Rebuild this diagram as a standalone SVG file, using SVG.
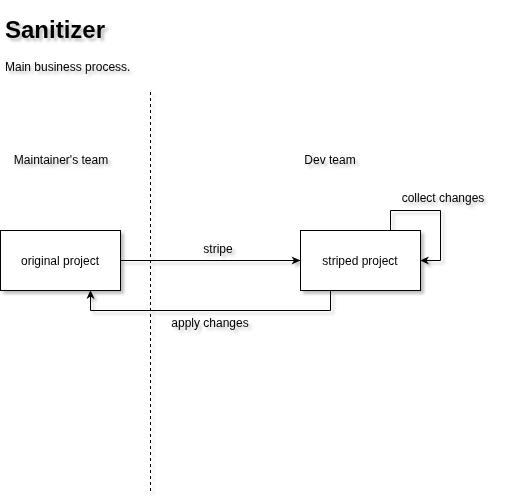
<svg xmlns="http://www.w3.org/2000/svg" width="512" height="503" viewBox="0 0 512 503">
<defs>
<filter id="sh" x="-20%" y="-20%" width="150%" height="160%">
<feGaussianBlur in="SourceAlpha" stdDeviation="1.5"/>
<feOffset dx="3" dy="3" result="b"/>
<feComponentTransfer><feFuncA type="linear" slope="0.25"/></feComponentTransfer>
<feMerge><feMergeNode/><feMergeNode in="SourceGraphic"/></feMerge>
</filter>
<marker id="arr" viewBox="0 0 10 10" refX="9" refY="5" markerWidth="9" markerHeight="9" markerUnits="userSpaceOnUse" orient="auto">
<path d="M0,0.5 L10,5 L0,9.5 L3,5 Z" fill="#000"/>
</marker>
<style>
text{font-family:"Liberation Sans",Arial,sans-serif;font-size:12px;fill:#000}
.box{fill:#fff;stroke:#000;stroke-width:1}
.edge{fill:none;stroke:#000;stroke-width:1}
</style>
</defs>
<rect width="512" height="503" fill="#fff"/>
<g filter="url(#sh)">
<g id="title"><text x="5" y="38" style="font-size:24px;font-weight:bold">Sanitizer</text></g>
<g id="subtitle"><text x="5" y="71">Main business process.</text></g>
<g id="divider"><line x1="150.5" y1="92" x2="150.5" y2="492" stroke="#000" stroke-dasharray="3,3"/></g>
<g id="maintainers-team"><text x="61" y="164" text-anchor="middle">Maintainer's team</text></g>
<g id="dev-team"><text x="330" y="164" text-anchor="middle">Dev team</text></g>
<g id="connectors">
<path class="edge" d="M120.5,260.5 L299.5,260.5" marker-end="url(#arr)"/>
<path class="edge" d="M390.5,230.5 L390.5,210.5 L440.5,210.5 L440.5,260.5 L421,260.5" marker-end="url(#arr)"/>
<path class="edge" d="M330.5,290.5 L330.5,310.5 L90.5,310.5 L90.5,291" marker-end="url(#arr)"/>
<text x="218" y="253" text-anchor="middle">stripe</text>
<text x="443" y="202" text-anchor="middle">collect changes</text>
<text x="210" y="327" text-anchor="middle">apply changes</text>
</g>
<g id="original-project">
<rect class="box" x="0.5" y="230.5" width="120" height="60"/>
<text x="60" y="265" text-anchor="middle">original project</text>
</g>
<g id="striped-project">
<rect class="box" x="300.5" y="230.5" width="120" height="60"/>
<text x="360" y="265" text-anchor="middle">striped project</text>
</g>
</g>
</svg>
